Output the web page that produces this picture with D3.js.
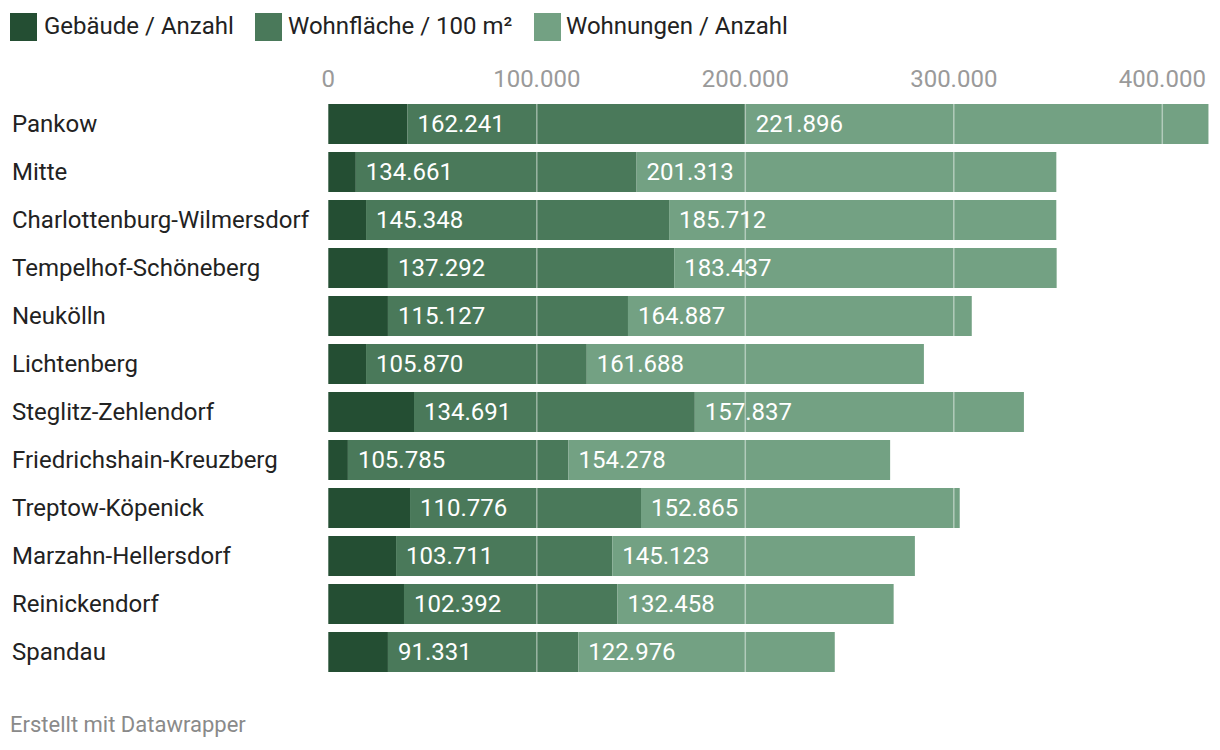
<!DOCTYPE html>
<html><head><meta charset="utf-8">
<script src="https://cdn.jsdelivr.net/npm/d3@7"></script>
<style>body{margin:0;background:#fff;font-family:Roboto,sans-serif}</style>
</head><body><svg id="c" width="1220" height="750"></svg>
<script>
const categories = ["Pankow","Mitte","Charlottenburg-Wilmersdorf","Tempelhof-Schöneberg","Neukölln","Lichtenberg","Steglitz-Zehlendorf","Friedrichshain-Kreuzberg","Treptow-Köpenick","Marzahn-Hellersdorf","Reinickendorf","Spandau"];
const seriesNames = ["Gebäude / Anzahl","Wohnfläche / 100 m²","Wohnungen / Anzahl"];
const gebaeude = [38000,13200,18100,28600,28600,18100,41100,9400,39200,32500,36300,28600];
const wohnflaeche = [162241,134661,145348,137292,115127,105870,134691,105785,110776,103711,102392,91331];
const wohnungen = [221896,201313,185712,183437,164887,161688,157837,154278,152865,145123,132458,122976];
const tickValues = [0,100000,200000,300000,400000];
const colors = ["#244e33","#4a795a","#73a183"];

const svg = d3.select("#c");
const fmt = v => d3.format(",")(v).replace(/,/g,".");
const x = d3.scaleLinear().domain([0,400000]).range([328.3,1162.3]);
const y = d3.scaleBand().domain(categories).range([104,104+48*12-8]).paddingInner(8/48).paddingOuter(0);

const rows = categories.map((c,i)=>({c, vals:[gebaeude[i],wohnflaeche[i],wohnungen[i]]}));
const stack = d3.stack().keys([0,1,2]).value((d,k)=>d.vals[k])(rows);

// legend
const leg = [{x:10,tx:44},{x:255,tx:288},{x:534,tx:566}];
seriesNames.forEach((n,i)=>{
  svg.append("rect").attr("x",leg[i].x).attr("y",13).attr("width",27).attr("height",28).attr("fill",colors[i]);
  svg.append("text").attr("x",leg[i].tx).attr("y",26).attr("dominant-baseline","central").attr("font-size",24).attr("fill","#222").text(n);
});

// axis tick labels
svg.selectAll(".tick").data(tickValues).join("text")
  .attr("x",d=>x(d)).attr("y",79).attr("text-anchor","middle").attr("dominant-baseline","central")
  .attr("font-size",24).attr("fill","#9a9a9a").text(d=>fmt(d));

// bars
stack.forEach((s,k)=>{
  svg.append("g").selectAll("rect").data(s).join("rect")
    .attr("x",d=>x(d[0])).attr("width",d=>x(d[1])-x(d[0]))
    .attr("y",d=>y(d.data.c)).attr("height",y.bandwidth()).attr("fill",colors[k]);
});

// gridlines over bars
svg.selectAll(".grid").data(tickValues.slice(1)).join("line")
  .attr("x1",d=>x(d)).attr("x2",d=>x(d)).attr("y1",98).attr("y2",104+48*12-8)
  .attr("stroke","#fff").attr("stroke-opacity",0.45).attr("stroke-width",1.5);

// value labels
[1,2].forEach(k=>{
  svg.append("g").selectAll("text").data(stack[k]).join("text")
    .attr("x",d=>x(d[0])+10).attr("y",d=>y(d.data.c)+y.bandwidth()/2)
    .attr("dominant-baseline","central").attr("font-size",24).attr("fill","#fff")
    .text(d=>fmt(d.data.vals[k]));
});

// row labels
svg.selectAll(".lab").data(categories).join("text")
  .attr("x",12).attr("y",d=>y(d)+y.bandwidth()/2).attr("dominant-baseline","central")
  .attr("font-size",24).attr("fill","#222").text(d=>d);

svg.append("text").attr("x",10).attr("y",724).attr("dominant-baseline","central")
  .attr("font-size",22).attr("fill","#8a8a8a").text("Erstellt mit Datawrapper");
</script></body></html>
